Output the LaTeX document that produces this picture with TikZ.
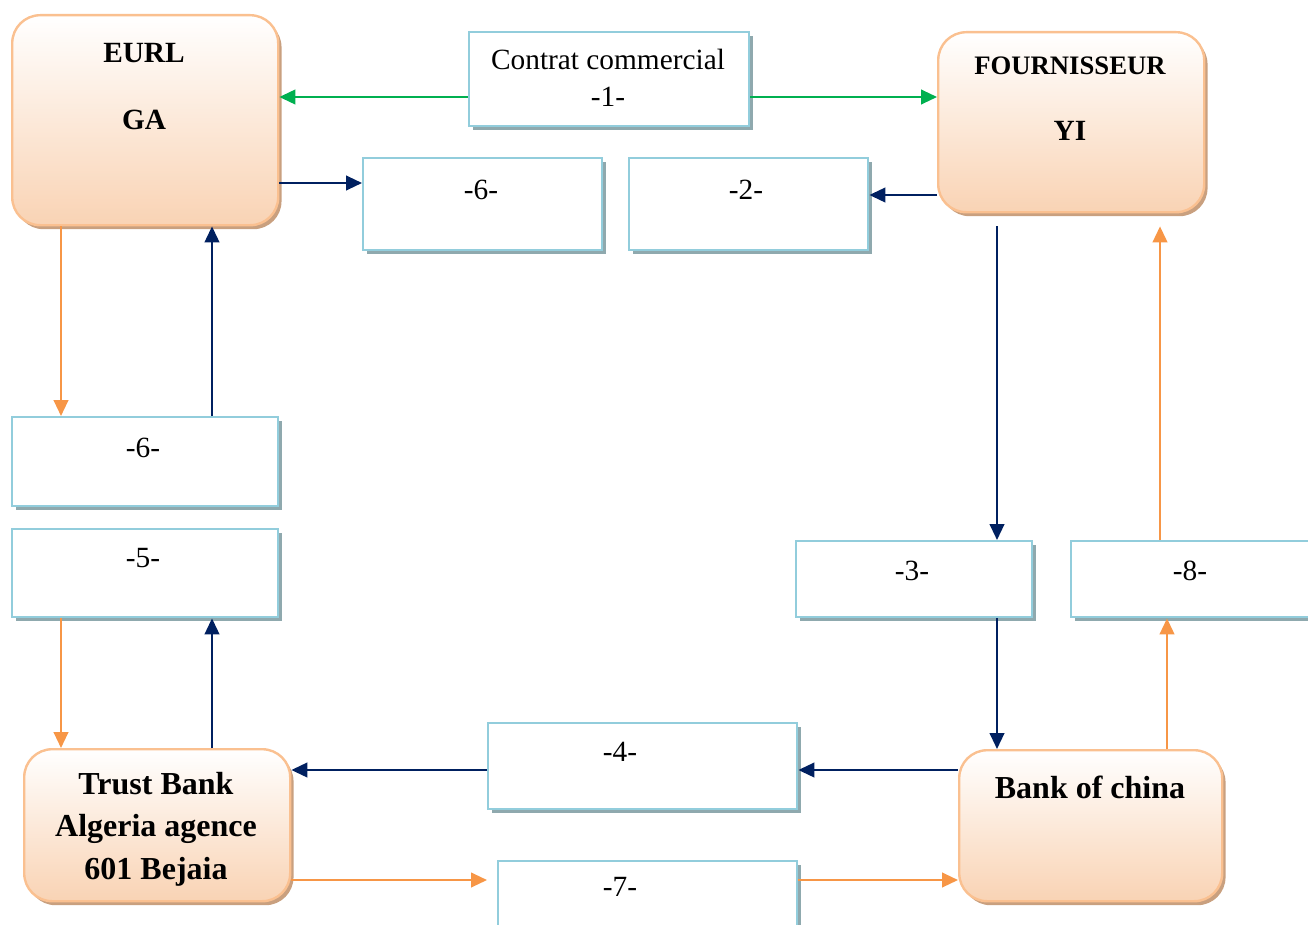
\documentclass[tikz,border=0pt]{standalone}
\usepackage{fontspec}
\setmainfont{Liberation Serif}
\usetikzlibrary{arrows.meta,shadows}
\definecolor{navy}{HTML}{002060}
\definecolor{org}{HTML}{F79646}
\definecolor{grn}{HTML}{00B050}
\definecolor{lblue}{HTML}{92CDDC}
\definecolor{peach}{HTML}{FAC090}
\definecolor{peachfill}{HTML}{F9D3B4}
\definecolor{bshadow}{HTML}{8FA9AE}
\definecolor{oshadow}{HTML}{C9A07F}
\begin{document}
\begin{tikzpicture}[x=0.75pt,y=-0.75pt,
  lbox/.style={draw=lblue, line width=1.8pt, fill=white, anchor=north west, inner sep=0pt,
    drop shadow={shadow xshift=3pt, shadow yshift=-3pt, fill=bshadow, opacity=1}},
  obox/.style={draw=peach, line width=1.8pt, rounded corners=21pt, anchor=north west, inner sep=0pt,
    top color=white, bottom color=peachfill,
    drop shadow={shadow xshift=2.5pt, shadow yshift=-3pt, fill=oshadow, opacity=1}},
  lbl/.style={font=\fontsize{22}{26}\selectfont, inner sep=0pt},
  ttl/.style={font=\fontsize{22}{26}\selectfont\bfseries, inner sep=0pt},
  ttlb/.style={font=\fontsize{24}{32}\selectfont\bfseries, inner sep=0pt, align=center},
  tip/.style={-{Triangle[length=12pt,width=11pt]}},
  ga/.style={tip, draw=grn, line width=1.6pt},
  na/.style={tip, draw=navy, line width=1.6pt},
  oa/.style={tip, draw=org, line width=1.6pt},
]
\useasboundingbox (0,0) rectangle (1308,924);

% orange boxes
\node[obox, minimum width={266*0.75pt}, minimum height={210*0.75pt}] (eurl) at (11,14) {};
\node[obox, minimum width={266*0.75pt}, minimum height={180*0.75pt}] (fourn) at (937,31) {};
\node[obox, minimum width={266*0.75pt}, minimum height={152*0.75pt}] (trust) at (23,748) {};
\node[obox, minimum width={263*0.75pt}, minimum height={151*0.75pt}] (bank) at (958,749) {};

% label boxes
\node[lbox, minimum width={280*0.75pt}, minimum height={94*0.75pt}] (contrat) at (468,31) {};
\node[lbox, minimum width={239*0.75pt}, minimum height={92*0.75pt}] (sixa) at (362,157) {};
\node[lbox, minimum width={239*0.75pt}, minimum height={92*0.75pt}] (two) at (628,157) {};
\node[lbox, minimum width={266*0.75pt}, minimum height={89*0.75pt}] (sixb) at (11,416) {};
\node[lbox, minimum width={266*0.75pt}, minimum height={88*0.75pt}] (five) at (11,528) {};
\node[lbox, minimum width={236*0.75pt}, minimum height={76*0.75pt}] (three) at (795,540) {};
\node[lbox, minimum width={250*0.75pt}, minimum height={76*0.75pt}] (eight) at (1070,540) {};
\node[lbox, minimum width={309*0.75pt}, minimum height={86*0.75pt}] (four) at (487,722) {};
\node[lbox, minimum width={299*0.75pt}, minimum height={80*0.75pt}] (seven) at (497,860) {};

% texts
\node[ttl] (teurl) at (144,53) {EURL};
\node[ttl] (tga) at (144,120) {GA};
\node[ttl, font=\fontsize{20}{24}\selectfont\bfseries] (tfourn) at (1070,66) {FOURNISSEUR};
\node[ttl] (tyi) at (1070,131) {YI};
\node[ttlb] (ttrust) at (156,829) {Trust Bank\\Algeria agence\\601 Bejaia};
\node[ttlb] (tbank) at (1090,787) {Bank of china};
\node[lbl, align=center, font=\fontsize{22}{28}\selectfont] (tcontrat) at (608,78) {Contrat commercial\\-1-};
\node[lbl] (tsixa) at (481,190) {-6-};
\node[lbl] (ttwo) at (746,190) {-2-};
\node[lbl] (tsixb) at (143,448) {-6-};
\node[lbl] (tfive) at (143,558) {-5-};
\node[lbl] (tthree) at (912,571) {-3-};
\node[lbl] (teight) at (1190,571) {-8-};
\node[lbl] (tfour) at (620,752) {-4-};
\node[lbl] (tseven) at (620,887) {-7-};

% connectors
\draw[ga] (contrat.west |- 0,97) -- (eurl.east |- 0,97);
\draw[ga] (contrat.east |- 0,97) -- (fourn.west |- 0,97);
\draw[na] (eurl.east |- 0,183) -- (sixa.west |- 0,183);
\draw[na] (fourn.west |- 0,195) -- (two.east |- 0,195);
\draw[na, shorten <=9.75pt] (fourn.south -| 997,0) -- (three.north -| 997,0);
\draw[na] (three.south -| 997,0) -- (bank.north -| 997,0);
\draw[oa] (bank.north -| 1167,0) -- (eight.south -| 1167,0);
\draw[oa, shorten >=9.75pt] (eight.north -| 1160,0) -- (fourn.south -| 1160,0);
\draw[na] (bank.west |- 0,770) -- (four.east |- 0,770);
\draw[na] (four.west |- 0,770) -- (trust.east |- 0,770);
\draw[oa, shorten >=7.5pt] (trust.east |- 0,880) -- (seven.west |- 0,880);
\draw[oa] (seven.east |- 0,880) -- (bank.west |- 0,880);
\draw[oa] (eurl.south -| 61,0) -- (sixb.north -| 61,0);
\draw[na] (sixb.north -| 212,0) -- (eurl.south -| 212,0);
\draw[oa] (five.south -| 61,0) -- (trust.north -| 61,0);
\draw[na] (trust.north -| 212,0) -- (five.south -| 212,0);
\end{tikzpicture}
\end{document}
